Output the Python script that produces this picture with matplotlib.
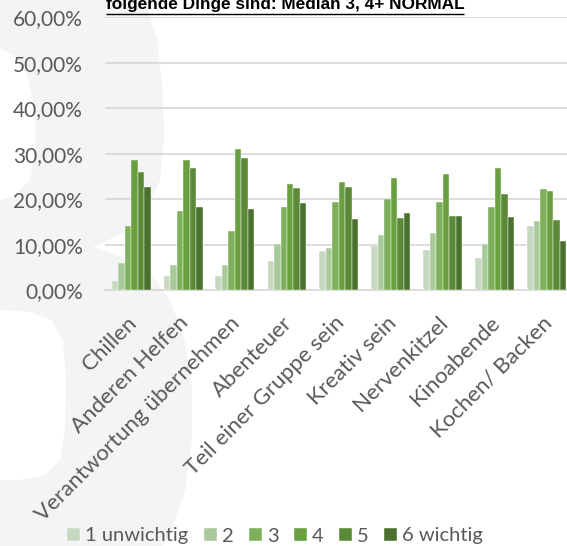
import numpy as np
import matplotlib
matplotlib.use("Agg")
import matplotlib.pyplot as plt
from matplotlib.patches import Polygon
from matplotlib.ticker import MultipleLocator, FuncFormatter
from matplotlib.transforms import ScaledTranslation

# data (share of answers per rating)
categories = ["Chillen", "Anderen Helfen", "Verantwortung übernehmen", "Abenteuer",
              "Teil einer Gruppe sein", "Kreativ sein", "Nervenkitzel", "Kinoabende",
              "Kochen/ Backen"]
series_names = ["1 unwichtig", "2", "3", "4", "5", "6 wichtig"]
r1 = [2.0, 3.1, 3.1, 6.4, 8.6, 9.8, 8.9, 7.2, 14.2]
r2 = [5.9, 5.5, 5.5, 10.1, 9.3, 12.1, 12.6, 10.1, 15.3]
r3 = [14.1, 17.4, 13.0, 18.3, 19.5, 20.1, 19.5, 18.2, 22.2]
r4 = [28.6, 28.6, 31.0, 23.3, 23.9, 24.7, 25.6, 26.9, 21.8]
r5 = [26.1, 26.8, 29.0, 22.4, 22.6, 16.0, 16.4, 21.2, 15.4]
r6 = [22.8, 18.3, 17.8, 19.2, 15.6, 16.9, 16.4, 16.1, 10.9]
title = "folgende Dinge sind: Median 3, 4+ NORMAL"

colors = ["#c6d9c0", "#a8c999", "#7eb05c", "#6a9f40", "#5a8a38", "#4a712d"]
W, H = 567, 546
plt.rcParams['font.family'] = ['Lato', 'DejaVu Sans']

fig = plt.figure(figsize=(W / 100, H / 100), dpi=100)

# background watermark shape (pixel coords, origin top-left)
bg = fig.add_axes([0, 0, 1, 1], zorder=0)
bg.set_xlim(0, W)
bg.set_ylim(H, 0)
bg.axis("off")
outer = [(0, 0), (145, 0), (157, 40), (163, 90), (164, 140), (160, 180), (147, 210),
         (125, 232), (93, 247), (125, 258), (150, 272), (170, 300), (185, 340),
         (192, 390), (192, 440), (185, 490), (172, 530), (163, 546), (0, 546)]
hole1 = [(0, 48), (12, 55), (27, 75), (35, 110), (35, 150), (30, 180), (15, 195), (0, 200)]
hole2 = [(0, 310), (30, 312), (52, 320), (63, 340), (66, 380), (65, 430), (60, 460),
         (45, 475), (20, 480), (0, 480)]
bg.add_patch(Polygon(outer, closed=True, fc="#f3f4f6", ec="none"))
for h in (hole1, hole2):
    bg.add_patch(Polygon(h, closed=True, fc="white", ec="none"))

ax = fig.add_axes([105 / W, 1 - 290.3 / H, 468 / W, 273 / H], zorder=1)
ax.set_facecolor("none")

data = [r1, r2, r3, r4, r5, r6]
x = np.arange(len(categories))
bw = 0.125
for i, vals in enumerate(data):
    ax.bar(x + (i - 2.5) * bw, np.array(vals) / 100, width=bw, color=colors[i],
           edgecolor="white", linewidth=0.3, label=series_names[i], zorder=3)

ax.set_xlim(-0.5, len(categories) - 0.5)
ax.set_ylim(0, 0.6)
ax.yaxis.set_major_locator(MultipleLocator(0.1))
ax.yaxis.set_major_formatter(FuncFormatter(lambda v, p: f"{v * 100:.2f}%".replace(".", ",")))
ax.grid(axis="y", color="#d9d9d9", linewidth=1.3, zorder=0)
for s in ["top", "right", "left"]:
    ax.spines[s].set_visible(False)
ax.spines["bottom"].set_color("#d9d9d9")
ax.spines["bottom"].set_linewidth(1.3)
ax.tick_params(axis="y", length=0, pad=16, labelsize=15, labelcolor="#595959")
ax.tick_params(axis="x", length=0, pad=6, labelsize=16, labelcolor="#595959")
ax.set_xticks(x)
ax.set_xticklabels(categories, rotation=45, ha="right", rotation_mode="anchor")
shift = ScaledTranslation(-5 / 100, -14 / 100, fig.dpi_scale_trans)
for lab in ax.get_xticklabels():
    lab.set_transform(lab.get_transform() + shift)

leg = fig.legend(loc="center", bbox_to_anchor=(275 / W, 1 - 536 / H), ncol=6,
                 frameon=False, fontsize=14.5, handlelength=0.65, handleheight=0.65,
                 handletextpad=0.25, columnspacing=0.75, labelcolor="#595959",
                 borderpad=0, borderaxespad=0)

t = fig.text(285 / W, 1 - 5 / H, title, ha="center", va="center", fontsize=12.4,
             fontweight="bold", family="Liberation Sans", color="black")
fig.canvas.draw()
bb = t.get_window_extent()
uy = 13.5
bg.plot([bb.x0, bb.x1], [uy, uy], color="black", linewidth=1.0, solid_capstyle="butt")

fig.savefig("out.png", dpi=100)
